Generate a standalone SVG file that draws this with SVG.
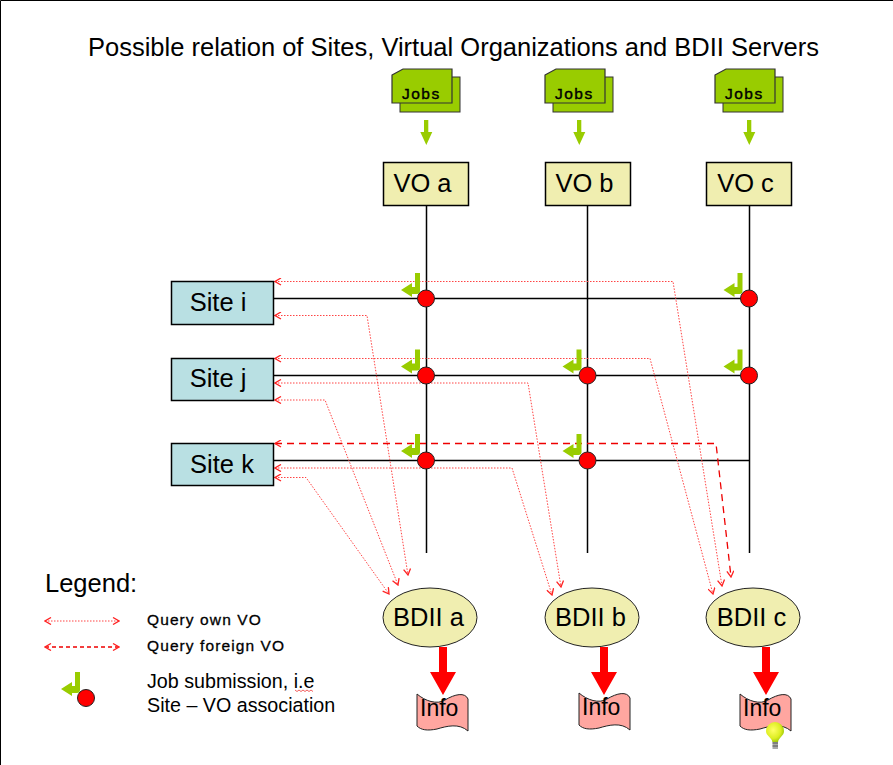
<svg xmlns="http://www.w3.org/2000/svg" width="893" height="765" viewBox="0 0 893 765">
<style>
text{font-family:"Liberation Sans",Arial,sans-serif;fill:#000}
.big{font-size:25.500px;text-anchor:middle}
.box{stroke:#000;stroke-width:1.5}
.vo{fill:#f0eeb0}
.site{fill:#b9e0e3}
.ln{stroke:#000;stroke-width:1.5;fill:none}
.own{stroke:#f44;stroke-width:1;stroke-dasharray:1.5 1.5;fill:none;marker-start:url(#h);marker-end:url(#h)}
.for{stroke:#e00;stroke-width:1.3;stroke-dasharray:7 5;fill:none;marker-start:url(#h);marker-end:url(#h)}
.dot{fill:#f00;stroke:#222;stroke-width:1}
.sm{font-size:15.500px;letter-spacing:1.100px;stroke:#000;stroke-width:.3}
.lg{font-size:19.700px}
</style>
<defs>
<marker id="h" viewBox="0 0 8 8" refX="7" refY="4" markerWidth="8" markerHeight="8" markerUnits="userSpaceOnUse" orient="auto-start-reverse"><path d="M1,.5L7,4L1,7.500" fill="none" stroke="#f22" stroke-width="1.300"/></marker>
<g id="jobs">
<rect x="8" y="8" width="60" height="35" fill="#99cc00" stroke="#333" stroke-width="1"/>
<path d="M0,6L11,0H60V34H0Z" fill="#99cc00" stroke="#333" stroke-width="1.200"/>
<text x="10" y="30" style="font-size:15.500px;letter-spacing:1.500px;stroke:#000;stroke-width:.4">Jobs</text>
<path d="M32,51h4.300v12h4l-6,13l-6,-13h3.700z" fill="#99cc00"/>
</g>
<path id="sub" d="M15,0h5v18q0,3 -3,3h-5v3l-11,-7l11,-7v4h3z" fill="#99cc00"/>
<g id="info">
<path d="M0,1C8,8 20,12 28,7C38,1 48,-1 51,6V38C42,30 30,33 20,36C10,38 4,37 0,33Z" fill="#ffa6a0" stroke="#222" stroke-width="1"/>
<text x="3" y="23" style="font-size:23px">Info</text>
</g>
<path id="red" d="M-4,0h8v25h9l-13,23l-13,-23h9z" fill="#f00"/>
<radialGradient id="bulb" cx=".4" cy=".4" r=".7"><stop offset="0" stop-color="#ffff66"/><stop offset=".6" stop-color="#ddee22"/><stop offset="1" stop-color="#88bb00"/></radialGradient>
</defs>
<rect width="893" height="765" fill="#fff"/>
<path d="M.5,765V.5H893" stroke="#000" fill="none"/>
<text x="88" y="56" style="font-size:25.500px">Possible relation of Sites, Virtual Organizations and BDII Servers</text>
<use id="info-a" href="#info" x="417" y="693"/>
<use id="info-b" href="#info" x="579" y="692"/>
<use id="info-c" href="#info" x="740" y="693"/>
<g id="connectors">
<path class="ln" d="M426.500,205V553M587.500,205V553M749.500,205V553M273,298.500H749M273,375.500H749M273,460.500H749"/>
<path class="own" d="M275,281.500H673L722,586"/>
<path class="own" d="M275,315.500H367L408,575"/>
<path class="own" d="M275,358.500H650L713,594"/>
<path class="own" d="M275,383H528L561,587"/>
<path class="own" d="M275,400H325L398,585"/>
<path class="own" d="M275,468H512L552,595"/>
<path class="own" d="M275,477.500H306L389,594"/>
<path class="for" d="M275,443.500H716L731,577"/>
<use href="#red" x="443" y="647"/><use href="#red" x="604" y="647"/><use href="#red" x="766" y="647"/>
</g>
<use id="jobs-a" href="#jobs" x="392" y="69"/><use id="jobs-b" href="#jobs" x="545" y="69"/><use id="jobs-c" href="#jobs" x="715" y="69"/>
<g id="vo-a"><rect class="box vo" x="383.500" y="162.500" width="85" height="43"/><text class="big" x="422.500" y="192">VO a</text></g>
<g id="vo-b"><rect class="box vo" x="545.500" y="162.500" width="85" height="43"/><text class="big" x="584.500" y="192">VO b</text></g>
<g id="vo-c"><rect class="box vo" x="706.500" y="162.500" width="85" height="43"/><text class="big" x="745.500" y="192">VO c</text></g>
<g id="site-i"><rect class="box site" x="171.500" y="281.500" width="102" height="43"/><text class="big" x="218" y="311">Site i</text></g>
<g id="site-j"><rect class="box site" x="171.500" y="358.500" width="102" height="42"/><text class="big" x="218" y="387">Site j</text></g>
<g id="site-k"><rect class="box site" x="171.500" y="443.500" width="102" height="42"/><text class="big" x="222" y="473">Site k</text></g>
<g id="assoc">
<use href="#sub" x="400" y="273"/><use href="#sub" x="722.500" y="273"/>
<use href="#sub" x="400" y="349.500"/><use href="#sub" x="561.500" y="349.500"/><use href="#sub" x="722.500" y="349.500"/>
<use href="#sub" x="400" y="434"/><use href="#sub" x="561.500" y="434"/>
<circle class="dot" cx="426" cy="298.500" r="8.500"/><circle class="dot" cx="749" cy="298.500" r="8.500"/>
<circle class="dot" cx="426" cy="375.500" r="8.500"/><circle class="dot" cx="587.500" cy="375.500" r="8.500"/><circle class="dot" cx="749" cy="375.500" r="8.500"/>
<circle class="dot" cx="426" cy="460.500" r="8.500"/><circle class="dot" cx="587.500" cy="460.500" r="8.500"/>
</g>
<g id="bdii-a"><ellipse class="vo" stroke="#222" cx="430" cy="617.500" rx="47" ry="29.500"/><text class="big" x="428.500" y="626">BDII a</text></g>
<g id="bdii-b"><ellipse class="vo" stroke="#222" cx="592" cy="617.500" rx="47" ry="29.500"/><text class="big" x="590.500" y="626">BDII b</text></g>
<g id="bdii-c"><ellipse class="vo" stroke="#222" cx="753" cy="617.500" rx="47" ry="29.500"/><text class="big" x="751.500" y="626">BDII c</text></g>
<g id="bulb-icon"><rect x="772.500" y="740" width="5.500" height="9" fill="#aaa"/><path d="M772.500,743h5.500M772.500,746h5.500" stroke="#555"/><path d="M766,731a9,9 0 1 1 18,0c0,5 -5,6 -6,11h-5.500c-1,-5 -6.500,-6 -6.500,-11z" fill="url(#bulb)"/></g>
<g id="legend">
<text x="45" y="592" style="font-size:25.500px">Legend:</text>
<path class="own" d="M45,621H119"/><path class="for" style="stroke-dasharray:4 3" d="M45,647H119"/>
<text class="sm" x="147" y="625">Query own VO</text>
<text class="sm" x="147" y="651">Query foreign VO</text>
<use href="#sub" x="60" y="672"/>
<circle class="dot" cx="86" cy="698" r="8.500"/>
<text class="lg" x="147" y="688">Job submission, i.e</text>
<text class="lg" x="147" y="712">Site – VO association</text>
<path d="M295,690l2,1.500l2,-1.500l2,1.500l2,-1.500l2,1.500l2,-1.500l2,1.500l2,-1.500l2,1.500" stroke="#e33" fill="none" stroke-width=".8"/>
</g>
</svg>
